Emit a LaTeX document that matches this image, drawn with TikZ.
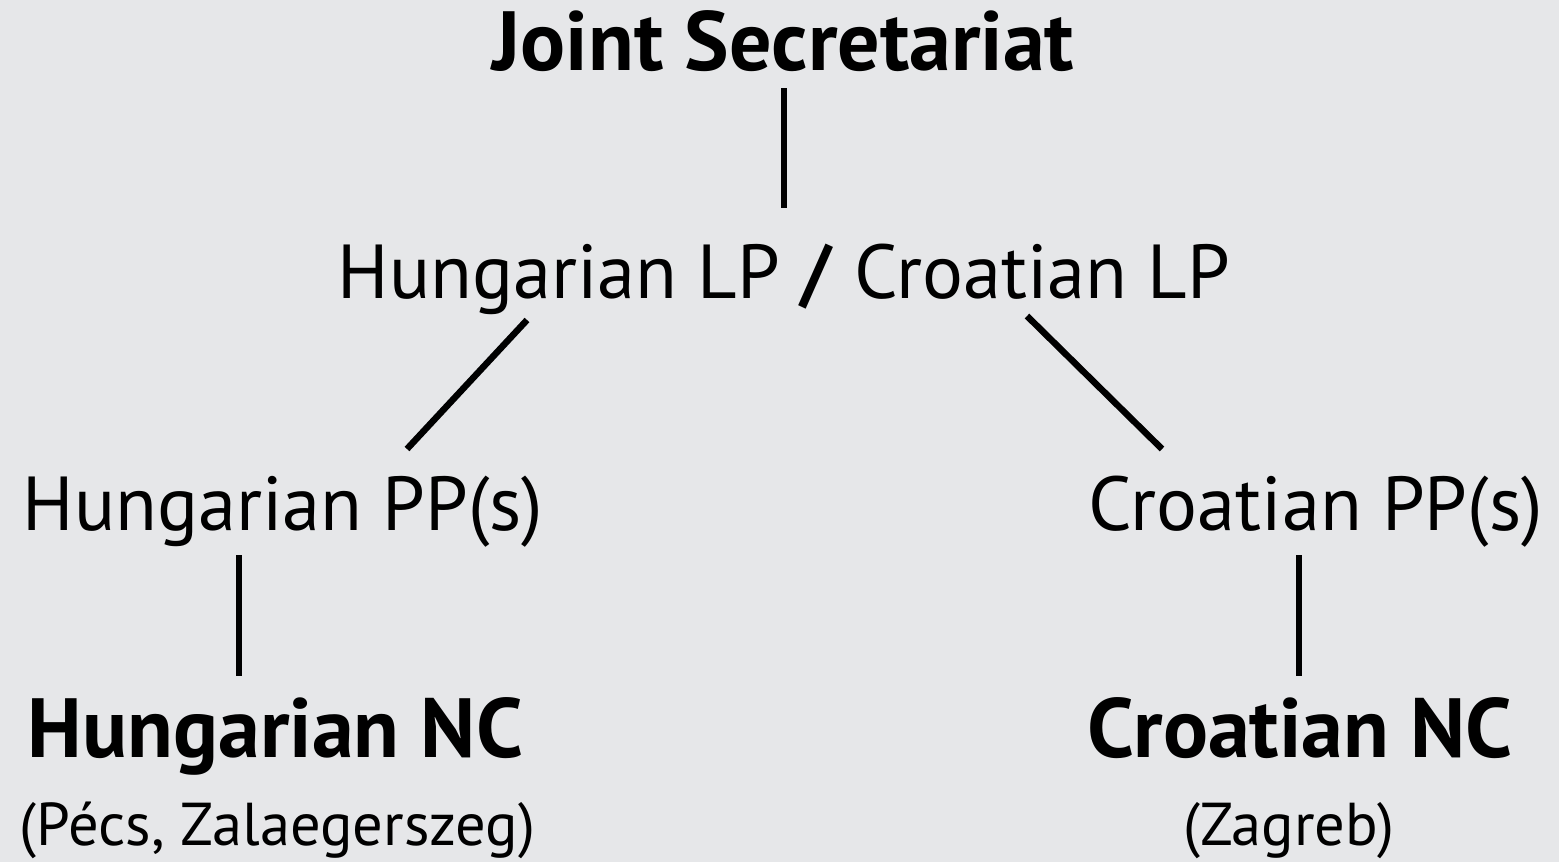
\documentclass[tikz,border=0pt]{standalone}
\usepackage{fontspec}
\setmainfont{PT Sans}
\definecolor{bg}{HTML}{E6E7E9}
\tikzset{
  lbl/.style={anchor=base, inner sep=0pt, font=\fontsize{76.5}{80}\selectfont},
  bld/.style={anchor=base, inner sep=0pt, font=\fontsize{84}{86}\selectfont\bfseries},
  sml/.style={anchor=base, inner sep=0pt, font=\fontsize{60.5}{62}\selectfont},
  conn/.style={line width=6.5pt, black}
}
\begin{document}
\begin{tikzpicture}[x=1pt,y=-1pt]
\fill[bg] (0,0) rectangle (1559,862);
\useasboundingbox (0,0) rectangle (1559,862);
\node[bld] (js) at (783.5,70) {Joint Secretariat};
\node[lbl] (lp) at (784,298) {Hungarian LP \textbf{/} Croatian LP};
\node[lbl] (hpp) at (283,530) {Hungarian PP(s)};
\node[lbl] (cpp) at (1315.5,530) {Croatian PP(s)};
\node[bld] (hnc) at (275.5,757) {Hungarian NC};
\node[bld] (cnc) at (1300,757) {Croatian NC};
\node[sml] (hloc) at (277.5,845) {(Pécs, Zalaegerszeg)};
\node[sml] (cloc) at (1289,845) {(Zagreb)};
\coordinate (jsb) at (784,88);
\coordinate (lpt) at (784,208);
\coordinate (lpl) at (527,320);
\coordinate (hppt) at (407,449);
\coordinate (lpr) at (1027,316);
\coordinate (cppt) at (1162,449);
\coordinate (hppb) at (239,555);
\coordinate (hnct) at (239,676);
\coordinate (cppb) at (1299,555);
\coordinate (cnct) at (1299,676);
\draw[conn] (jsb) -- (lpt);
\draw[conn] (lpl) -- (hppt);
\draw[conn] (lpr) -- (cppt);
\draw[conn] (hppb) -- (hnct);
\draw[conn] (cppb) -- (cnct);
\end{tikzpicture}
\end{document}
